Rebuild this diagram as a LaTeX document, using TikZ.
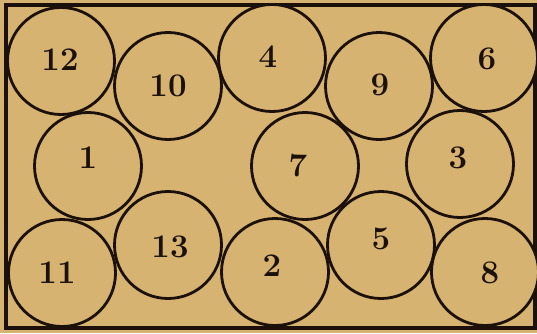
\documentclass[tikz,border=0pt]{standalone}
\definecolor{paper}{RGB}{214,179,112}
\definecolor{ink}{RGB}{28,16,10}
\begin{document}
\begin{tikzpicture}[x=1pt,y=-1pt,
  disc/.style={circle,draw=ink,line width=2.8pt,fill=paper,minimum size=107pt,inner sep=0pt},
  num/.style={text=ink,font=\fontsize{33}{33}\selectfont\bfseries,inner sep=0pt}]
\fill[paper] (0,0) rectangle (537,333);
\useasboundingbox (0,0) rectangle (537,333);
\draw[ink,line width=3.2pt] (6,5) rectangle (535,328);
\node[disc] (c12) at (61,61) {};
\node[disc] (c10) at (168,86) {};
\node[disc] (c4) at (272,58) {};
\node[disc] (c9) at (379,86) {};
\node[disc] (c6) at (484,58) {};
\node[disc] (c1) at (88,166) {};
\node[disc] (c7) at (305,166) {};
\node[disc] (c3) at (460,164) {};
\node[disc] (c11) at (62,273) {};
\node[disc] (c13) at (168,245) {};
\node[disc] (c2) at (275,272) {};
\node[disc] (c5) at (381,245) {};
\node[disc] (c8) at (485,272) {};
\node[num] (t12) at (60,60) {12};
\node[num] (t10) at (168,86) {10};
\node[num] (t4) at (268,57) {4};
\node[num] (t9) at (380,85) {9};
\node[num] (t6) at (487,59) {6};
\node[num] (t1) at (88,158) {1};
\node[num] (t7) at (298,166) {7};
\node[num] (t3) at (458,158) {3};
\node[num] (t11) at (57,273) {11};
\node[num] (t13) at (170,247) {13};
\node[num] (t2) at (272,266) {2};
\node[num] (t5) at (381,239) {5};
\node[num] (t8) at (490,273) {8};
\end{tikzpicture}
\end{document}
